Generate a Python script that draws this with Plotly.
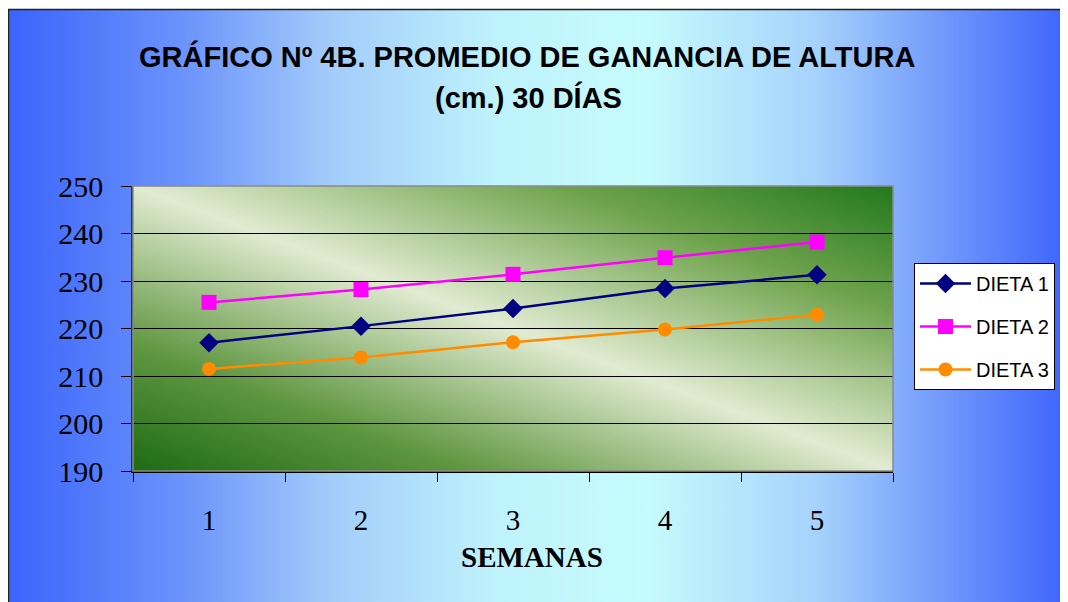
import base64
import plotly.graph_objects as go

# ---- data ----
semanas = ["1", "2", "3", "4", "5"]
dieta1 = [217.0, 220.5, 224.2, 228.4, 231.3]
dieta2 = [225.5, 228.2, 231.4, 234.9, 238.2]
dieta3 = [211.5, 213.9, 217.1, 219.8, 222.9]
series_names = ["DIETA 1", "DIETA 2", "DIETA 3"]
y_ticks = [190, 200, 210, 220, 230, 240, 250]
x_title = "SEMANAS"

# page offset (browser body margin)
OFF = 8
W, H = 1068 - OFF, 602 - OFF
ML, MT = 133 - OFF, 186 - OFF
PW, PH = 760, 285
MR = W - ML - PW
MB = H - MT - PH


def px_x(px):
    # page pixel -> paper fraction
    return (px - OFF - ML) / PW


def px_y(py):
    return (MT + PH - (py - OFF)) / PH


def svg_uri(svg):
    return "data:image/svg+xml;base64," + base64.b64encode(svg.encode()).decode()


paper_svg = (
    '<svg xmlns="http://www.w3.org/2000/svg" width="1000" height="600" '
    'preserveAspectRatio="none" viewBox="0 0 1000 600">'
    '<defs><linearGradient id="g" x1="0" y1="0" x2="1" y2="0">'
    '<stop offset="0" stop-color="#3a64fb"/>'
    '<stop offset="0.17" stop-color="#6d95fb"/>'
    '<stop offset="0.30" stop-color="#a2cbfa"/>'
    '<stop offset="0.46" stop-color="#bff3fc"/>'
    '<stop offset="0.60" stop-color="#c6fbfd"/>'
    '<stop offset="0.76" stop-color="#a5d2fb"/>'
    '<stop offset="0.89" stop-color="#6c93fb"/>'
    '<stop offset="1" stop-color="#3a62fb"/>'
    '</linearGradient></defs>'
    '<rect x="0" y="0" width="1000" height="600" fill="url(#g)"/></svg>'
)

plot_svg = (
    '<svg xmlns="http://www.w3.org/2000/svg" width="760" height="285" '
    'preserveAspectRatio="none" viewBox="0 0 760 285">'
    '<defs><linearGradient id="p" x1="0" y1="1" x2="1" y2="0">'
    '<stop offset="0" stop-color="#1d6b15"/>'
    '<stop offset="0.22" stop-color="#5f9640"/>'
    '<stop offset="0.50" stop-color="#e1ebd1"/>'
    '<stop offset="0.78" stop-color="#6ea34c"/>'
    '<stop offset="1" stop-color="#22791c"/>'
    '</linearGradient></defs>'
    '<rect x="0" y="0" width="760" height="285" fill="url(#p)"/></svg>'
)

fig = go.Figure()

styles = [
    dict(color="#000080", symbol="diamond", size=15),
    dict(color="#ff00ff", symbol="square", size=15),
    dict(color="#ff8c00", symbol="circle", size=14),
]
for i, (name, vals) in enumerate(zip(series_names, [dieta1, dieta2, dieta3])):
    st = styles[i]
    fig.add_trace(go.Scatter(
        x=semanas, y=vals, name=name, mode="lines+markers",
        legendgroup=f"g{i}",
        line=dict(color=st["color"], width=2.5),
        marker=dict(color=st["color"], symbol=st["symbol"], size=st["size"],
                    line=dict(width=0)),
    ))

fig.update_layout(
    width=W, height=H,
    margin=dict(l=ML, r=MR, t=MT, b=MB, autoexpand=False),
    paper_bgcolor="white",
    plot_bgcolor="rgba(0,0,0,0)",
    showlegend=True,
    legend=dict(
        x=px_x(914), y=px_y(263), xanchor="left", yanchor="top",
        bgcolor="white", bordercolor="black", borderwidth=1,
        font=dict(family="Liberation Sans", size=20, color="black"),
        itemwidth=51, tracegroupgap=14, traceorder="grouped",
    ),
    images=[
        dict(source=svg_uri(paper_svg), xref="paper", yref="paper",
             x=px_x(8), y=px_y(10), sizex=(1068 + 5 - 8) / PW, sizey=(602 + 5 - 10) / PH,
             xanchor="left", yanchor="top", sizing="stretch", layer="below"),
        dict(source=svg_uri(plot_svg), xref="paper", yref="paper",
             x=0, y=1, sizex=1, sizey=1,
             xanchor="left", yanchor="top", sizing="stretch", layer="below"),
    ],
    shapes=[
        dict(type="rect", xref="paper", yref="paper",
             x0=px_x(8.5), y0=px_y(9.5), x1=px_x(1068 + 10), y1=px_y(602 + 10),
             line=dict(color="#222222", width=1.5), fillcolor="rgba(0,0,0,0)",
             layer="above"),
        dict(type="rect", xref="paper", yref="paper", x0=0, y0=0, x1=1, y1=1,
             line=dict(color="#8a8a8a", width=1.5), fillcolor="rgba(0,0,0,0)",
             layer="above"),
    ],
    annotations=[
        dict(text="GRÁFICO Nº 4B. PROMEDIO DE GANANCIA DE ALTURA",
             xref="paper", yref="paper", x=px_x(527), y=px_y(57),
             xanchor="center", yanchor="middle", showarrow=False,
             font=dict(family="Liberation Sans", size=29, color="black", weight="bold")),
        dict(text="(cm.) 30 DÍAS",
             xref="paper", yref="paper", x=px_x(528), y=px_y(98),
             xanchor="center", yanchor="middle", showarrow=False,
             font=dict(family="Liberation Sans", size=29, color="black", weight="bold")),
        dict(text=f"<b>{x_title}</b>",
             xref="paper", yref="paper", x=px_x(532), y=px_y(557),
             xanchor="center", yanchor="middle", showarrow=False,
             font=dict(family="Liberation Serif", size=29, color="black")),
    ],
)

fig.update_xaxes(
    type="category", tickson="boundaries", range=[-0.5, len(semanas) - 0.5],
    ticks="outside", ticklen=9, tickcolor="black", tickwidth=1,
    showline=True, linecolor="black", linewidth=1.5,
    showgrid=False, zeroline=False,
    tickfont=dict(family="Liberation Serif", size=29, color="black"),
    ticklabelstandoff=22,
)
fig.update_yaxes(
    range=[190, 250], tickvals=y_ticks,
    ticks="outside", ticklen=10, tickcolor="black", tickwidth=1,
    showline=True, linecolor="#333333", linewidth=1.5,
    showgrid=False, zeroline=False,
    minor=dict(tickvals=y_ticks[1:-1], showgrid=True, gridcolor="black",
               gridwidth=1, ticks=""),
    tickfont=dict(family="Liberation Serif", size=30, color="black"),
    ticklabelstandoff=12,
)

fig.write_html("out.html")
